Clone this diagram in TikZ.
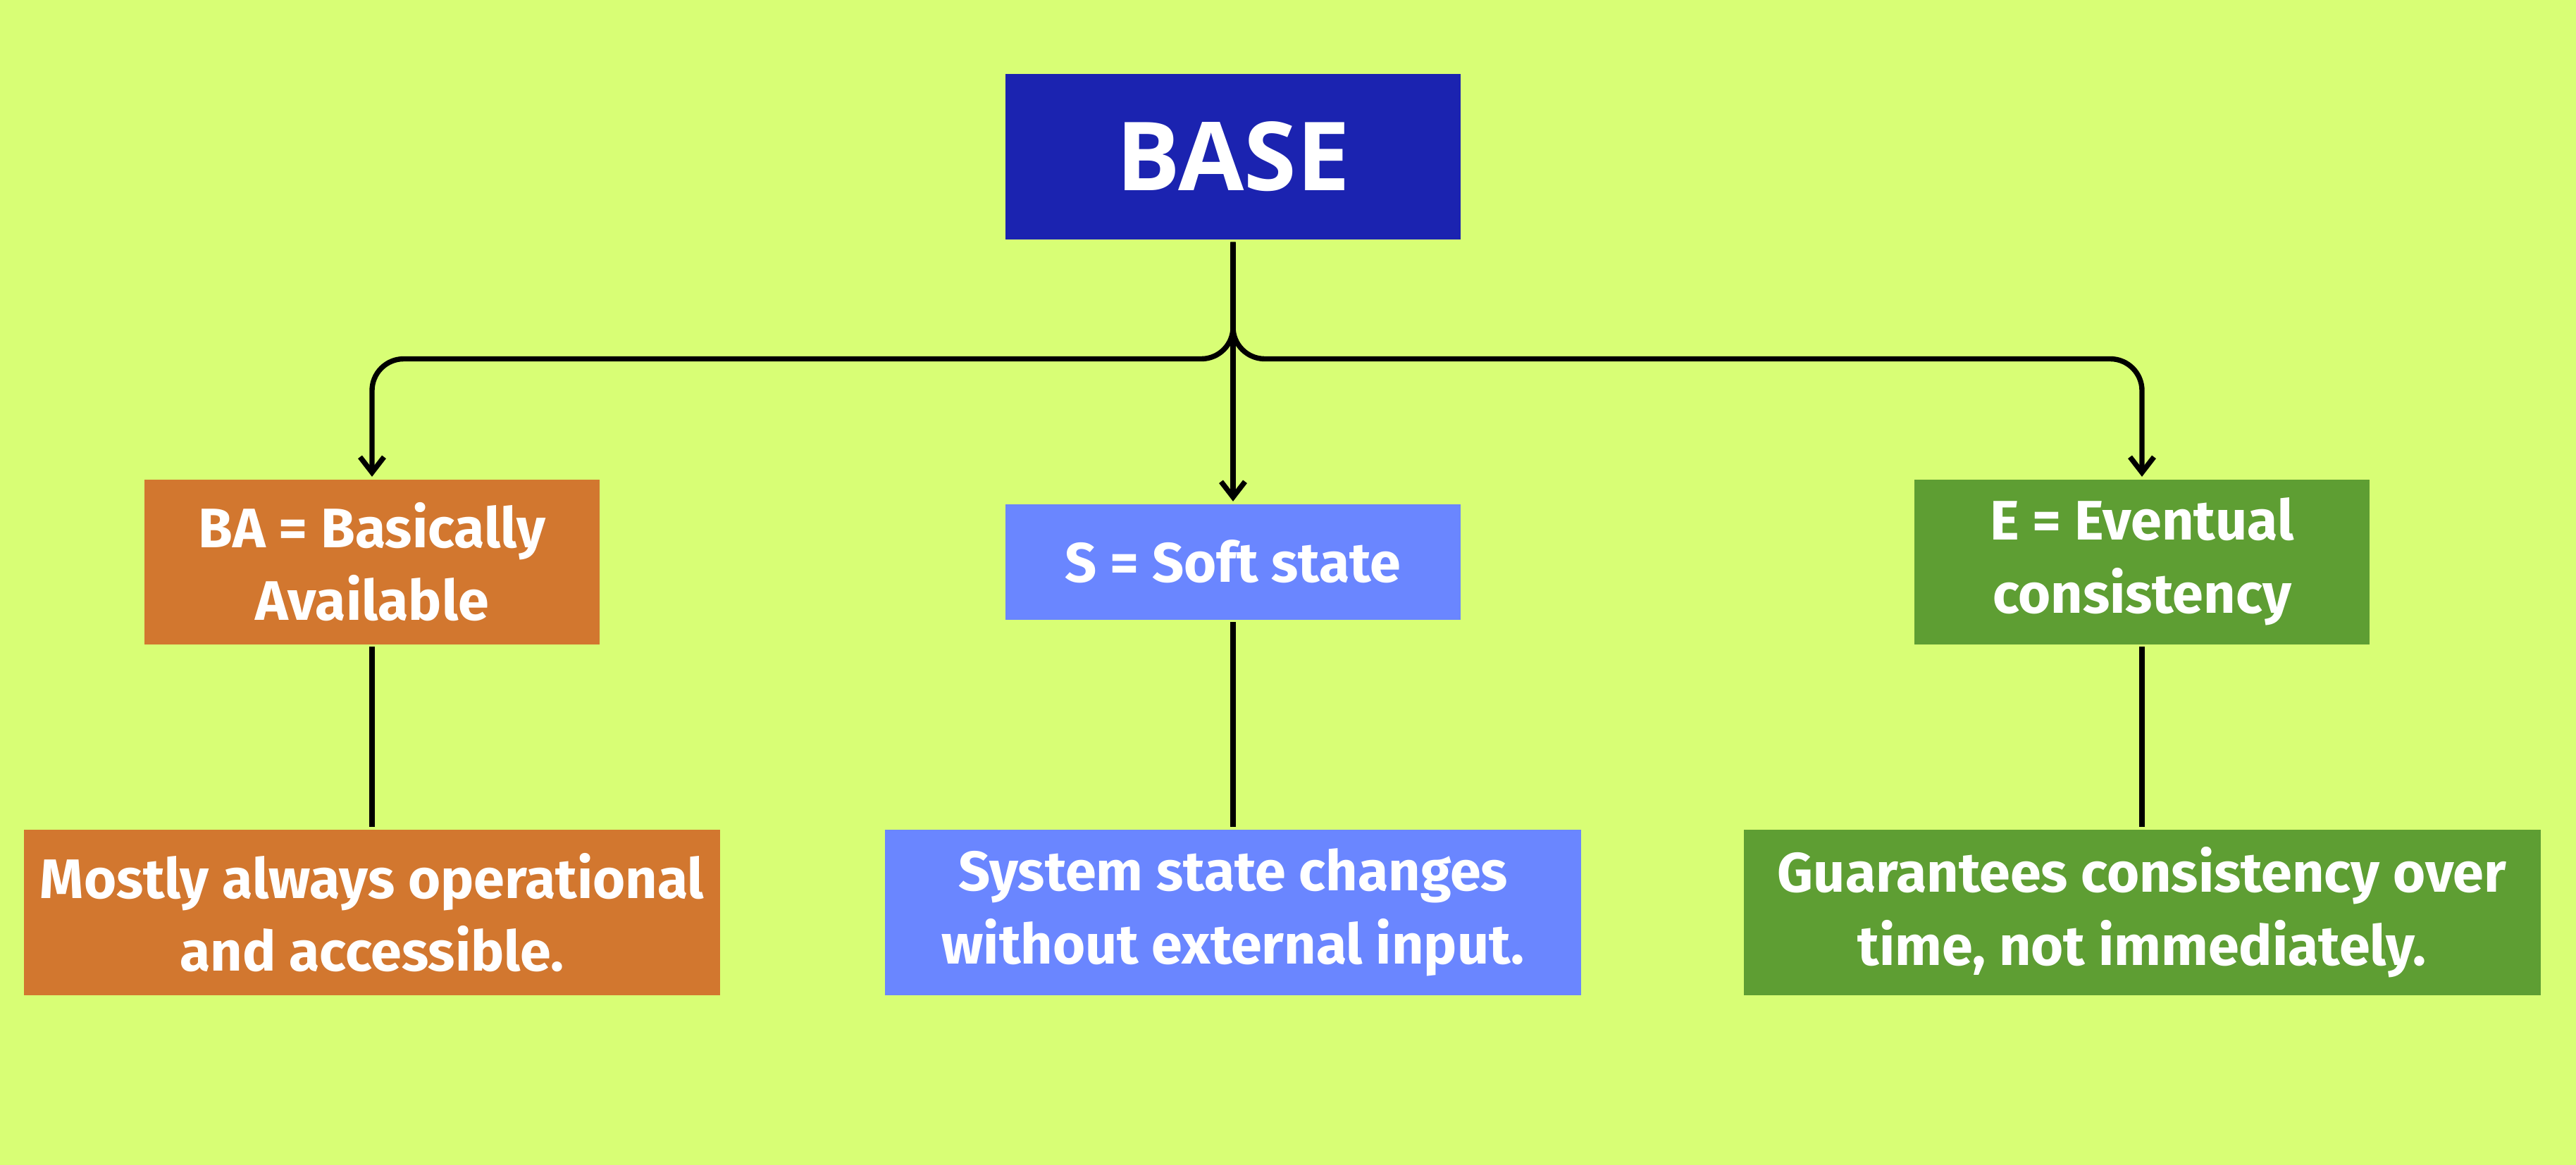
\documentclass[tikz,border=0pt]{standalone}
\usepackage{fontspec}
\setmainfont{Fira Sans}
\newfontfamily\titlefont{Open Sans}
\usetikzlibrary{positioning,arrows.meta}
\definecolor{lime}{HTML}{D8FE75}
\definecolor{navy}{HTML}{1B23B0}
\definecolor{rust}{HTML}{D2772F}
\definecolor{periwinkle}{HTML}{6A86FF}
\definecolor{leaf}{HTML}{5E9E33}

\begin{document}
\begin{tikzpicture}[>={Straight Barb[length=2.2mm,width=3.4mm]}, on grid, line width=2.1pt,
  box/.style={rectangle, text=white, inner sep=0pt, align=center, minimum width=6.46cm, minimum height=2.34cm,
    font=\fontsize{22.5}{29.5}\selectfont\bfseries},
  info/.style={box, minimum height=2.35cm}]
  \fill[lime] (0,0) rectangle (36.56,-16.54);
  \useasboundingbox (0,0) rectangle (36.56,-16.54);

  \node[box, fill=navy, minimum height=2.35cm, font=\titlefont\fontsize{38.5}{42}\selectfont\bfseries] (base) at (17.5,-2.225) {BASE};
  \coordinate[below=2.87cm of base] (split);
  \node[box, fill=periwinkle, minimum height=1.64cm] (s) [below=5.75cm of base] {S = Soft state};
  \node[box, fill=rust] (ba) [left=12.22cm of s] {BA = Basically\\Available};
  \node[box, fill=leaf] (e) [right=12.9cm of s] {E = Eventual\\consistency};

  \node[info, fill=rust, minimum width=9.87cm] (ba_desc) [below=4.98cm of ba] {Mostly always operational\\and accessible.};
  \node[info, fill=periwinkle, minimum width=9.88cm] (s_desc) [below=4.98cm of s] {System state changes\\without external input.};
  \node[info, fill=leaf, minimum width=11.31cm] (e_desc) [below=4.98cm of e] {Guarantees consistency over\\time, not immediately.};

  \draw[->] (base) -- (s);
  \draw[->, rounded corners=0.45cm] (base) -- (split) -| (ba);
  \draw[->, rounded corners=0.45cm] (base) -- (split) -| (e);
  \draw (ba) -- (ba_desc);
  \draw (s) -- (s_desc);
  \draw (e) -- (e_desc);
\end{tikzpicture}
\end{document}
